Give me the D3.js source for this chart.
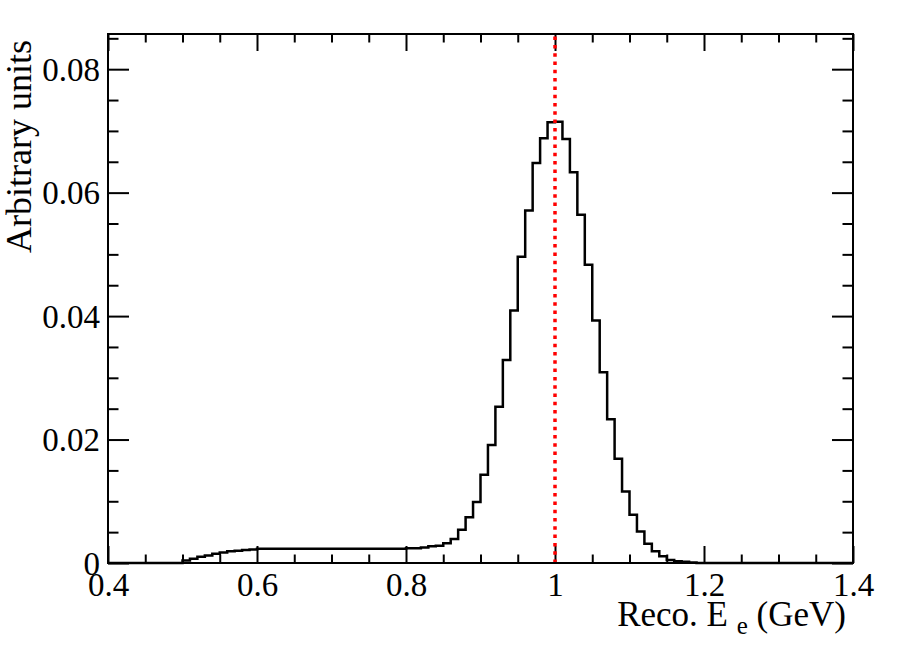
<!DOCTYPE html>
<html>
<head>
<meta charset="utf-8">
<script src="https://cdn.jsdelivr.net/npm/d3@7"></script>
<style>
  body { margin: 0; background: #fff; }
  text { font-family: "Liberation Serif", "DejaVu Serif", serif; fill: #000; }
</style>
</head>
<body>
<div id="chart"></div>
<script>
// histogram: bins of 0.01 GeV starting at 0.40
var binStart = 0.40
var binWidth = 0.01
var binValues = [
  0, 0, 0, 0, 0, 0, 0, 0, 0, 0,                                              // 0.40-0.49
  0.0004, 0.0007, 0.0010, 0.0012, 0.0015, 0.0017, 0.0019, 0.0020, 0.0021, 0.0022, // 0.50
  0.0023, 0.0023, 0.0023, 0.0023, 0.0023, 0.0023, 0.0023, 0.0023, 0.0023, 0.0023, // 0.60
  0.0023, 0.0023, 0.0023, 0.0023, 0.0023, 0.0023, 0.0023, 0.0023, 0.0023, 0.0023, // 0.70
  0.0024, 0.0024, 0.0025, 0.0027, 0.0028, 0.0032, 0.0039, 0.0054, 0.0074, 0.0099, // 0.80
  0.0143, 0.0191, 0.0253, 0.0329, 0.0409, 0.0496, 0.0571, 0.0648, 0.0688, 0.0714, // 0.90
  0.0715, 0.0687, 0.0633, 0.0564, 0.0483, 0.0393, 0.0309, 0.0233, 0.0169, 0.0116, // 1.00
  0.0078, 0.0051, 0.0031, 0.0019, 0.0011, 0.0005, 0.0003, 0.0002, 0.0001, 0,      // 1.10
  0, 0, 0, 0, 0, 0, 0, 0, 0, 0,                                              // 1.20
  0, 0, 0, 0, 0, 0, 0, 0, 0, 0                                               // 1.30
]
var markerEnergy = [1.0]

var xDomain = [0.4, 1.4]
var yDomain = [0, 0.0857]
var xMajorTicks = [0.4, 0.6, 0.8, 1.0, 1.2, 1.4]
var yMajorTicks = [0, 0.02, 0.04, 0.06, 0.08]
var xTitle = "Reco. E"
var xTitleSub = "e"
var xTitleUnit = " (GeV)"
var yTitle = "Arbitrary units"

var W = 898, H = 671
var left_margin = 108, right_margin = 45, top_margin = 34, bottom_margin = 108
var fontSize = 33

var svg = d3.select("#chart").append("svg")
  .attr("width", W).attr("height", H)

var x = d3.scaleLinear().domain(xDomain).range([left_margin, W - right_margin])
var y = d3.scaleLinear().domain(yDomain).range([H - bottom_margin, top_margin])

// minor ticks: every 0.05 on x, every 0.005 on y
var xMinor = d3.range(0, 21).map(function(i){ return +(0.4 + i*0.05).toFixed(2) })
  .filter(function(v){ return xMajorTicks.indexOf(v) < 0 })
var yMinor = d3.range(0, 18).map(function(i){ return +(i*0.005).toFixed(3) })
  .filter(function(v){ return yMajorTicks.indexOf(v) < 0 })

var fmtX = function(d){ return String(+d.toFixed(1)) }
var fmtY = function(d){ return d === 0 ? "0" : d.toFixed(2) }

function addAxis(axisFn, scale, transform, values, size, fmt, pad) {
  var a = axisFn(scale).tickValues(values).tickSizeInner(-size).tickSizeOuter(0).tickPadding(pad || 0)
    .tickFormat(fmt || function(){ return "" })
  var g = svg.append("g").attr("transform", transform).call(a)
  g.select(".domain").remove()
  g.selectAll("line").attr("stroke", "#000").attr("stroke-width", 2)
  g.selectAll("text").style("font-size", fontSize + "px").attr("font-family", null)
  return g
}

var yb = H - bottom_margin, xr = W - right_margin

// bottom and top
addAxis(d3.axisBottom, x, "translate(0," + yb + ")", xMajorTicks, 17, fmtX, 10)
addAxis(d3.axisBottom, x, "translate(0," + yb + ")", xMinor, 8.5)
addAxis(d3.axisTop, x, "translate(0," + top_margin + ")", xMajorTicks, 17)
addAxis(d3.axisTop, x, "translate(0," + top_margin + ")", xMinor, 8.5)
// left and right
var yl = addAxis(d3.axisLeft, y, "translate(" + left_margin + ",0)", yMajorTicks, 21, fmtY, 8)
yl.selectAll("text").attr("dy", "0.34em")
addAxis(d3.axisLeft, y, "translate(" + left_margin + ",0)", yMinor, 10.5)
addAxis(d3.axisRight, y, "translate(" + xr + ",0)", yMajorTicks, 21)
addAxis(d3.axisRight, y, "translate(" + xr + ",0)", yMinor, 10.5)

// histogram outline
var pts = []
binValues.forEach(function(v, i){
  var lo = binStart + i*binWidth
  pts.push([lo, v]); pts.push([lo + binWidth, v])
})
var line = d3.line().x(function(d){ return x(d[0]) }).y(function(d){ return y(d[1]) })
svg.append("path")
  .attr("d", line(pts))
  .attr("fill", "none")
  .attr("stroke", "#000")
  .attr("stroke-width", 2.5)
  .attr("stroke-linejoin", "miter")

// red dotted marker
svg.selectAll(".marker").data(markerEnergy).enter().append("line")
  .attr("class", "marker")
  .attr("x1", function(d){ return x(d) }).attr("x2", function(d){ return x(d) })
  .attr("y1", y(0)).attr("y2", top_margin)
  .attr("stroke", "#ff0000")
  .attr("stroke-width", 3.5)
  .attr("stroke-dasharray", "3.5,4.8")

// frame
svg.append("rect")
  .attr("x", left_margin).attr("y", top_margin)
  .attr("width", xr - left_margin).attr("height", yb - top_margin)
  .attr("fill", "none").attr("stroke", "#000").attr("stroke-width", 2)

// titles
var xt = svg.append("text")
  .attr("x", 846).attr("y", 626)
  .attr("text-anchor", "end")
  .style("font-size", "35px")
xt.append("tspan").text(xTitle + " ")
xt.append("tspan").attr("dy", 8).style("font-size", "25px").text(xTitleSub)
xt.append("tspan").attr("dy", -8).text(xTitleUnit)

svg.append("text")
  .attr("transform", "translate(31,40) rotate(-90)")
  .attr("text-anchor", "end")
  .style("font-size", "36px")
  .text(yTitle)
</script>
</body>
</html>
